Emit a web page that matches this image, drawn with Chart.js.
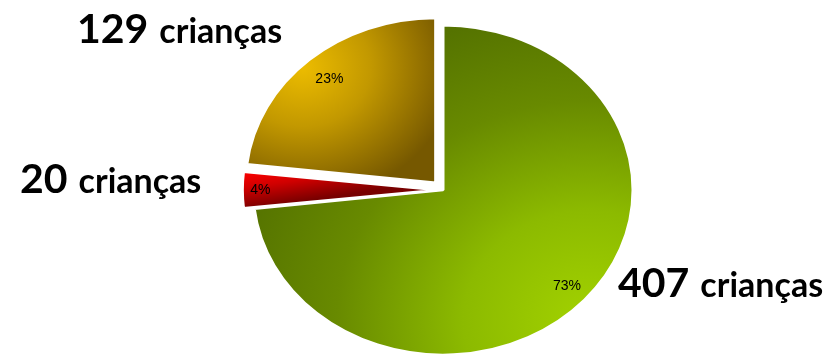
<!DOCTYPE html>
<html>
<head>
<meta charset="utf-8">
<style>
  html, body { margin: 0; padding: 0; background: #ffffff; }
  #wrap { width: 836px; height: 361px; position: relative; }
</style>
<script src="https://cdn.jsdelivr.net/npm/chart.js@4.4.1/dist/chart.umd.min.js"></script>
</head>
<body>
<div id="wrap"><canvas id="pie" width="836" height="361"></canvas></div>
<script>
// Number of children in each group, clockwise from 12 o'clock
const counts = [407, 20, 129];
const unitLabel = 'crianças';

// Presentation settings
const PIE_RADIUS = 190;          // horizontal radius of the pie
const SQUASH = 0.868;            // vertical flattening of the pie
const explode = [0, 24, 44];     // arc offset per slice (Chart.js units)
const pctRadius = [0.875, 0.93, 0.84];
const calloutPos = [
  { x: 618, y: 297 },
  { x: 20,  y: 193 },
  { x: 77,  y: 43 }
];

const total = counts.reduce((a, b) => a + b, 0);
const percentLabels = counts.map(v => Math.round(v / total * 100) + '%');

function centerOf(chart) {
  const a = chart.chartArea;
  return { x: (a.left + a.right) / 2, y: (a.top + a.bottom) / 2 };
}

function sliceFill(context) {
  const chart = context.chart;
  const ctx = chart.ctx;
  if (!chart.chartArea) return '#6f9400';
  const c = centerOf(chart);
  const R = PIE_RADIUS;
  const i = context.dataIndex;
  let g;
  if (i === 0) {
    g = ctx.createRadialGradient(c.x + 0.77 * R, c.y + 0.79 * R, 0, c.x + 0.77 * R, c.y + 0.79 * R, 1.9 * R);
    g.addColorStop(0, '#a2d200');
    g.addColorStop(0.35, '#8cba00');
    g.addColorStop(0.7, '#688a00');
    g.addColorStop(1, '#557300');
  } else if (i === 1) {
    g = ctx.createLinearGradient(c.x - 0.99 * R, c.y - 0.12 * R, c.x - 0.95 * R, c.y + 0.11 * R);
    g.addColorStop(0, '#ff0000');
    g.addColorStop(0.45, '#d00000');
    g.addColorStop(1, '#780000');
  } else {
    g = ctx.createRadialGradient(c.x - 0.7 * R, c.y - 0.7 * R, 0, c.x - 0.7 * R, c.y - 0.7 * R, 0.8 * R);
    g.addColorStop(0, '#ecbc00');
    g.addColorStop(0.45, '#c29800');
    g.addColorStop(1, '#765800');
  }
  return g;
}

// Flattens the pie into an ellipse and writes the labels on top
const squashPlugin = {
  id: 'squash',
  beforeDatasetsDraw(chart) {
    const c = centerOf(chart);
    const ctx = chart.ctx;
    ctx.save();
    ctx.translate(0, c.y);
    ctx.scale(1, SQUASH);
    ctx.translate(0, -c.y);
  },
  afterDatasetsDraw(chart) {
    const ctx = chart.ctx;
    ctx.restore();
    const c = centerOf(chart);
    const meta = chart.getDatasetMeta(0);

    ctx.save();
    ctx.fillStyle = '#000000';
    ctx.textAlign = 'center';
    ctx.textBaseline = 'middle';
    ctx.font = '14px "Liberation Sans", Arial, sans-serif';
    meta.data.forEach((arc, i) => {
      const mid = (arc.startAngle + arc.endAngle) / 2;
      const shift = (arc.options.offset || 0) / 4;
      const r = arc.outerRadius * pctRadius[i] + shift;
      const x = arc.x + Math.cos(mid) * r;
      const y = c.y + (arc.y + Math.sin(mid) * r - c.y) * SQUASH;
      ctx.fillText(percentLabels[i], x, y);
    });

    ctx.textAlign = 'left';
    ctx.textBaseline = 'alphabetic';
    counts.forEach((v, i) => {
      const p = calloutPos[i];
      const num = String(v);
      ctx.font = 'bold 41px Lato, "Open Sans", sans-serif';
      ctx.fillText(num, p.x, p.y);
      const w = ctx.measureText(num).width;
      ctx.font = 'bold 34px Lato, "Open Sans", sans-serif';
      ctx.fillText(unitLabel, p.x + w + 11, p.y);
    });
    ctx.restore();
  }
};

new Chart(document.getElementById('pie'), {
  type: 'pie',
  data: {
    labels: counts.map(v => v + ' ' + unitLabel),
    datasets: [{
      data: counts,
      backgroundColor: sliceFill,
      borderColor: '#ffffff',
      borderWidth: 3,
      offset: explode,
      radius: PIE_RADIUS,
      clip: false
    }]
  },
  options: {
    responsive: false,
    animation: false,
    events: [],
    layout: { padding: { left: 50, right: 0, top: 19, bottom: 0 } },
    plugins: {
      legend: { display: false },
      tooltip: { enabled: false }
    }
  },
  plugins: [squashPlugin]
});
</script>
</body>
</html>
